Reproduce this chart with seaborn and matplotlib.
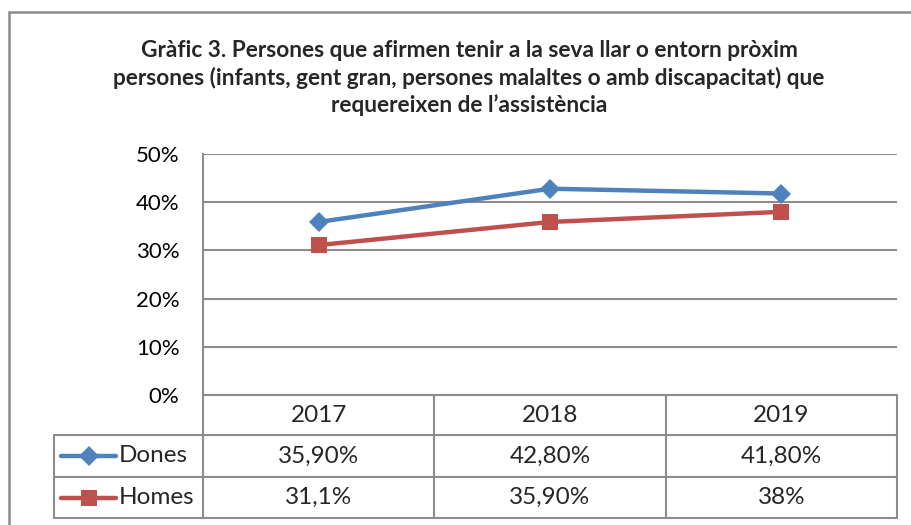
import matplotlib
matplotlib.use("Agg")
import matplotlib.pyplot as plt
import matplotlib.transforms as mtrans
from matplotlib.lines import Line2D
import seaborn as sns
import pandas as pd

# ---- data ----
years = ["2017", "2018", "2019"]
dones = [35.9, 42.8, 41.8]
homes = [31.1, 35.9, 38.0]
dones_labels = ["35,90%", "42,80%", "41,80%"]
homes_labels = ["31,1%", "35,90%", "38%"]
series_names = ["Dones", "Homes"]
yticks = [0, 10, 20, 30, 40, 50]
title = ("Gràfic 3. Persones que afirmen tenir a la seva llar o entorn pròxim\n"
         "persones (infants, gent gran, persones malaltes o amb discapacitat) que\n"
         "requereixen de l\u2019assistència")

sns.set_style("white")
plt.rcParams['font.family'] = ['Lato', 'DejaVu Sans']

W, H = 912, 525
fig = plt.figure(figsize=(W / 100, H / 100), dpi=100)

BLUE = "#4F81BD"
RED = "#C0504D"
GRID = "#8C8C8C"

# chart border (cut at right/bottom like the reference)
fig.add_artist(Line2D([9 / W, 9 / W], [0, 1 - 12 / H], transform=fig.transFigure,
                      color=GRID, lw=1.8))
fig.add_artist(Line2D([9 / W, 1], [1 - 12 / H, 1 - 12 / H], transform=fig.transFigure,
                      color=GRID, lw=1.8))

left, right, top, bottom = 203, 897, 154, 395
ax = fig.add_axes([left / W, 1 - bottom / H, (right - left) / W, (bottom - top) / H])

df = pd.DataFrame({"x": list(range(len(years))) * 2,
                   "y": dones + homes,
                   "s": [series_names[0]] * 3 + [series_names[1]] * 3})

sns.lineplot(data=df[df.s == "Dones"], x="x", y="y", ax=ax, color=BLUE, lw=3.2,
             marker="D", markersize=10, markeredgewidth=0, legend=False)
sns.lineplot(data=df[df.s == "Homes"], x="x", y="y", ax=ax, color=RED, lw=3.2,
             marker="s", markersize=11, markeredgewidth=0, legend=False)

ax.set_xlim(-0.5, 2.5)
ax.set_ylim(0, 50)
ax.set_yticks(yticks)
ax.set_yticklabels([f"{v}%" for v in yticks], fontsize=16, color="black")
ax.tick_params(axis="y", length=0, pad=17)
ax.set_xticks([])
ax.set_xlabel("")
ax.set_ylabel("")
for v in yticks:
    ax.axhline(v, color=GRID, lw=1.5, zorder=0)
for s in ["top", "right", "bottom"]:
    ax.spines[s].set_visible(False)
ax.spines["left"].set_color(GRID)
ax.spines["left"].set_linewidth(1.5)

# ---- data table ----
trans = mtrans.blended_transform_factory(ax.transData, ax.transAxes)
ph = bottom - top
pxu = (right - left) / 3.0
def yax(py):
    return (bottom - py) / ph
def xdat(px):
    return (px - left) / pxu - 0.5

rows_y = [yax(395), yax(435), yax(477), yax(518)]
col_x = [xdat(54), -0.5, 0.5, 1.5, 2.5]

kw = dict(color=GRID, lw=1.5, transform=trans, clip_on=False)
for cx in col_x[1:]:
    ax.add_line(Line2D([cx, cx], [rows_y[0], rows_y[3]], **kw))
ax.add_line(Line2D([col_x[0], col_x[0]], [rows_y[1], rows_y[3]], **kw))
ax.add_line(Line2D([-0.5, 2.5], [rows_y[0], rows_y[0]], **kw))
for ry in rows_y[1:]:
    ax.add_line(Line2D([col_x[0], 2.5], [ry, ry], **kw))

fs = 17.5
for i, yr in enumerate(years):
    ax.text(i, (rows_y[0] + rows_y[1]) / 2, yr, ha="center", va="center",
            fontsize=fs, transform=trans, clip_on=False)
for i, lab in enumerate(dones_labels):
    ax.text(i, (rows_y[1] + rows_y[2]) / 2, lab, ha="center", va="center",
            fontsize=fs, transform=trans, clip_on=False)
for i, lab in enumerate(homes_labels):
    ax.text(i, (rows_y[2] + rows_y[3]) / 2, lab, ha="center", va="center",
            fontsize=fs, transform=trans, clip_on=False)

# legend keys in table
for (name, col, mk, ms), (ya, yb) in zip(
        [(series_names[0], BLUE, "D", 10), (series_names[1], RED, "s", 11)],
        [(rows_y[1], rows_y[2]), (rows_y[2], rows_y[3])]):
    yc = (ya + yb) / 2
    ax.add_line(Line2D([xdat(61), xdat(116)], [yc, yc], color=col, lw=3.2,
                       solid_capstyle="round", transform=trans, clip_on=False))
    ax.add_line(Line2D([xdat(88.5)], [yc], color=col, marker=mk, markersize=ms,
                       markeredgewidth=0, transform=trans, clip_on=False))
    ax.text(xdat(119), yc, name, ha="left", va="center", fontsize=fs,
            transform=trans, clip_on=False)

fig.text(469 / W, 1 - 78 / H, title, ha="center", va="center", fontsize=16.3,
         fontweight="bold", linespacing=1.33)

fig.savefig("out.png", dpi=100)
